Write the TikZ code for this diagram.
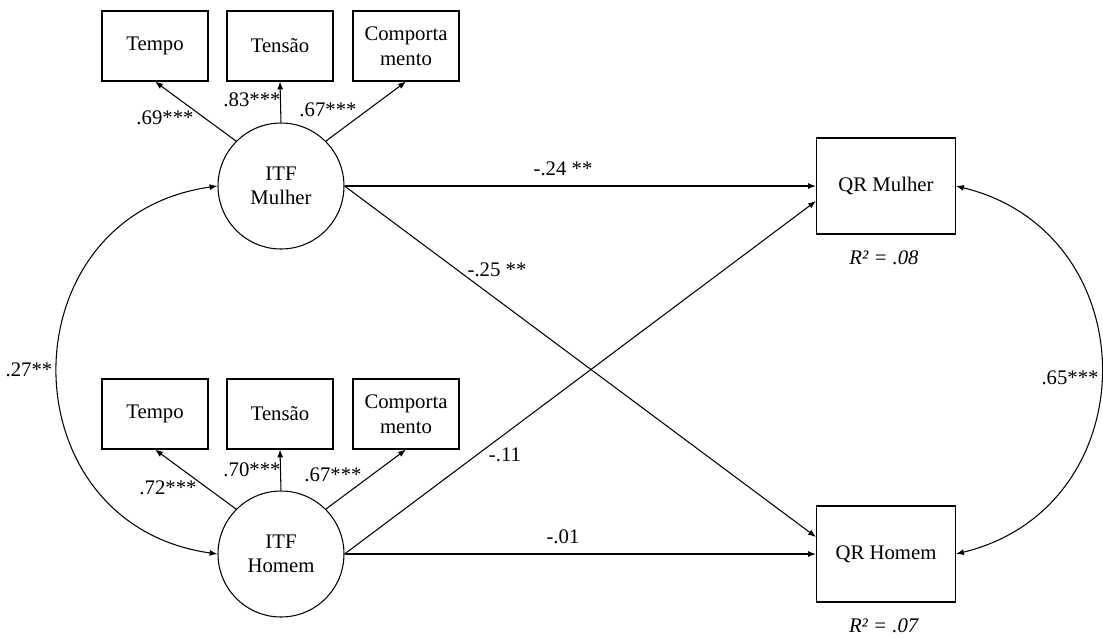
\documentclass[tikz,border=0pt]{standalone}
\usepackage{fontspec}
\setmainfont{Liberation Serif}
\usetikzlibrary{arrows.meta}
\begin{document}
\begin{tikzpicture}[x=0.02cm,y=-0.02cm,line width=0.6pt,
    >={Latex[length=4.5pt,width=3.4pt]},
    font=\fontsize{11.8}{14}\selectfont]
        \useasboundingbox (0,0) rectangle (1103,637);

        \begin{scope}[every node/.style={rectangle,draw,align=center,inner sep=1pt,minimum width=2.12cm,minimum height=1.4cm}]
          \node (tm) at (155,46)  {Tempo};
          \node (sm) at (280,46)  {Tensão};
          \node (cm) at (406,46)  {Comporta\\mento};
          \node (th) at (155,414) {Tempo};
          \node (sh) at (280,414) {Tensão};
          \node (ch) at (406,414) {Comporta\\mento};
        \end{scope}

        \begin{scope}[every node/.style={rectangle,draw,align=center,minimum width=2.78cm,minimum height=1.92cm}]
          \node (qrm) at (886,186) {QR Mulher};
          \node (qrh) at (886,554) {QR Homem};
        \end{scope}

        \begin{scope}[every node/.style={circle,draw,align=center,inner sep=0pt,minimum size=2.52cm}]
          \node (itfm) at (281,186) {ITF\\Mulher};
          \node (itfh) at (281,554) {ITF\\Homem};
        \end{scope}

        \begin{scope}[every edge/.style={draw,->}]
          \path (itfm.135) edge (tm.south);
          \path (itfm.90)  edge (sm.south);
          \path (itfm.45)  edge (cm.south);
          \path (itfh.135) edge (th.south);
          \path (itfh.90)  edge (sh.south);
          \path (itfh.45)  edge (ch.south);
          \path (itfm.east) edge (qrm.west);
          \path (itfm.east) edge ([yshift=0.34cm]qrh.west);
          \path (itfh.east) edge ([yshift=-0.3cm]qrm.west);
          \path (itfh.east) edge (qrh.west);
        \end{scope}

        \draw[<->] (itfm.west) .. controls +(-213,30) and +(-213,-30) .. (itfh.west);
        \draw[<->] (qrm.east) .. controls +(193,47) and +(193,-47) .. (qrh.east);

        \begin{scope}[every node/.style={inner sep=1pt}]
          \node (l69)  at (165,118) {.69***};
          \node (l83)  at (252,100) {.83***};
          \node (l67m) at (328,110) {.67***};
          \node (l72)  at (168,488) {.72***};
          \node (l70)  at (252,470) {.70***};
          \node (l67h) at (333,475) {.67***};
          \node (l24)  at (563,169) {-.24 **};
          \node (l25)  at (497,270) {-.25 **};
          \node (l11)  at (505,455) {-.11};
          \node (l01)  at (563,537) {-.01};
          \node (l27)  at (29,370)  {.27**};
          \node[fill=white] (l65) at (1070,378) {.65***};
          \node (r2m)  at (884,258) {\textit{R² = .08}};
          \node (r2h)  at (884,626) {\textit{R² = .07}};
        \end{scope}

      \end{tikzpicture}
\end{document}
